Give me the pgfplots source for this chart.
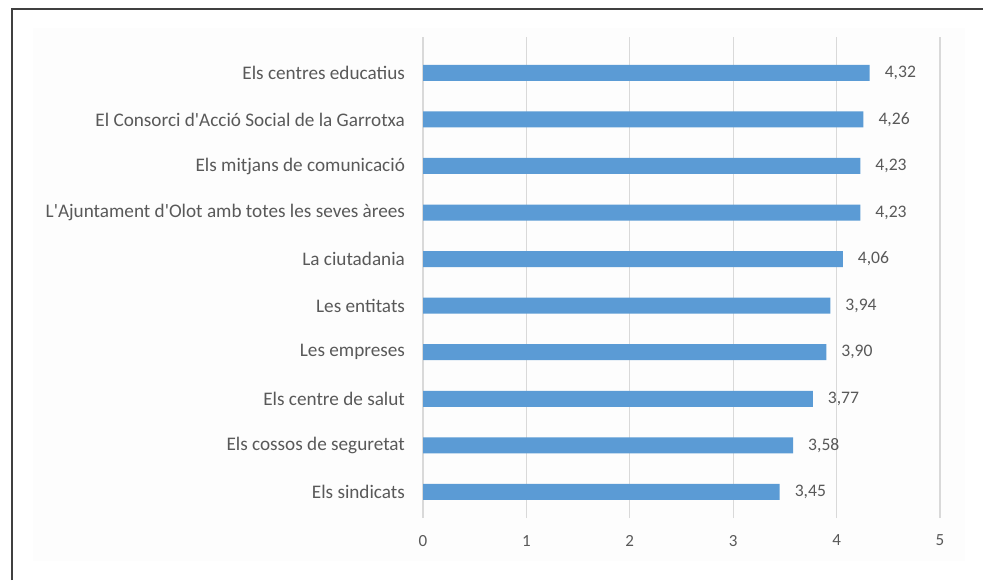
\documentclass[border=0pt]{standalone}
\usepackage{fontspec}
\setmainfont{Carlito}
\usepackage{pgfplots}
\pgfplotsset{compat=1.18}
\definecolor{barblue}{HTML}{5B9BD5}
\definecolor{txtgray}{HTML}{595959}
\definecolor{gridgray}{HTML}{D9D9D9}
\begin{document}
\begin{tikzpicture}
\path[use as bounding box] (0,0) rectangle (491.5pt,290pt);
\fill[black!0.6] (16.5pt,9.5pt) rectangle (482.5pt,276pt);
\draw[black!75, line width=1.2pt] (6pt,0pt) -- (6pt,285.5pt) -- (491.5pt,285.5pt);
\begin{axis}[
  at={(211.5pt,31pt)}, anchor=south west,
  scale only axis, width=258.5pt, height=240.5pt,
  xbar, bar width=8pt,
  xmin=0, xmax=5, ymin=-0.56, ymax=9.77,
  xtick={0,1,2,3,4,5},
  ytick={0,...,9},
  yticklabels={Els sindicats,Els cossos de seguretat,Els centre de salut,Les empreses,Les entitats,La ciutadania,L\textquotesingle Ajuntament d\textquotesingle Olot amb totes les seves àrees,Els mitjans de comunicació,El Consorci d\textquotesingle Acció Social de la Garrotxa,Els centres educatius},
  axis line style={draw=none},
  major tick length=0pt,
  xmajorgrids, grid style={gridgray, line width=0.6pt},
  tick label style={font=\fontsize{8.5}{10}\selectfont, text=txtgray},
  yticklabel style={xshift=-5.5pt, font=\fontsize{9.6}{11}\selectfont},
  xticklabel style={yshift=-5pt},
  /pgf/number format/assume math mode=true,
  nodes near coords,
  nodes near coords style={anchor=west, xshift=4pt, font=\fontsize{8.8}{10}\selectfont, text=txtgray,
    /pgf/number format/.cd, use comma, fixed, fixed zerofill, precision=2, assume math mode=true},
  axis background/.style={fill=none},
]
\addplot[fill=barblue, draw=none] coordinates {
(3.45,0) (3.58,1) (3.77,2) (3.90,3) (3.94,4) (4.06,5) (4.23,6) (4.23,7) (4.26,8) (4.32,9)
};
\end{axis}
\end{tikzpicture}
\end{document}
